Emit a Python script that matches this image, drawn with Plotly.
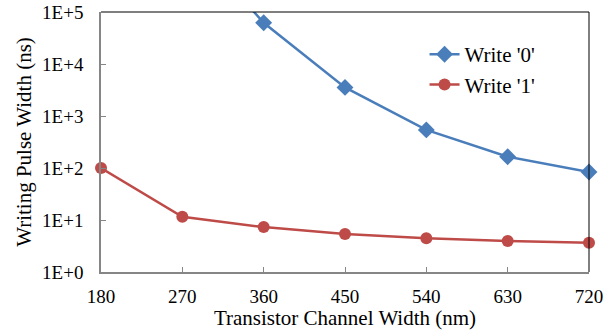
import plotly.graph_objects as go

x_vals = [180, 270, 360, 450, 540, 630, 720]
write0_x = [270, 360, 450, 540, 630, 720]
write0_y = [3.5e6, 6.2e4, 3550, 540, 165, 84]
write1 = [100, 11.5, 7.3, 5.4, 4.45, 3.95, 3.66]
y_tickvals = [1, 10, 100, 1000, 10000, 100000]
y_ticktext = ["1E+0", "1E+1", "1E+2", "1E+3", "1E+4", "1E+5"]

BLUE = "#4A7EBB"
RED = "#BE4B48"
FONT = "Liberation Serif"

fig = go.Figure()
fig.add_trace(go.Scatter(x=write0_x, y=write0_y, mode="lines+markers", name="Write '0'",
                         legendgroup="a",
                         line=dict(color=BLUE, width=2.5),
                         marker=dict(symbol="diamond", size=13, color=BLUE),
                         cliponaxis=False))
fig.add_trace(go.Scatter(x=x_vals, y=write1, mode="lines+markers", name="Write '1'",
                         legendgroup="b",
                         line=dict(color=RED, width=2.5),
                         marker=dict(symbol="circle", size=12, color=RED),
                         cliponaxis=False))

fig.update_layout(
    width=616, height=330,
    margin=dict(l=101, r=27, t=12, b=58, autoexpand=False),
    paper_bgcolor="white", plot_bgcolor="white",
    font=dict(family=FONT, size=19, color="black"),
    legend=dict(x=0.663, y=0.915, xanchor="left", yanchor="top",
                font=dict(size=21, family=FONT, color="black"), bgcolor="rgba(0,0,0,0)",
                itemwidth=30, tracegroupgap=0),
    xaxis=dict(range=[180, 720], tickvals=x_vals, ticks="inside", ticklen=5,
               tickcolor="#868686", showline=True, linecolor="#868686", linewidth=1.5,
               showgrid=False, zeroline=False, automargin=False, ticklabelstandoff=6,
               title=dict(text="Transistor Channel Width (nm)",
                          font=dict(size=21, family=FONT, color="black"), standoff=0),
               tickfont=dict(size=19, family=FONT, color="black")),
    yaxis=dict(type="log", range=[0, 5], tickvals=y_tickvals, ticktext=y_ticktext,
               ticks="inside", ticklen=5, tickcolor="#868686", showline=True,
               linecolor="#868686", linewidth=1.5, showgrid=False, zeroline=False,
               automargin=False, ticklabelstandoff=12,
               title=dict(text="Writing Pulse Width (ns)",
                          font=dict(size=21, family=FONT, color="black"), standoff=5),
               tickfont=dict(size=19, family=FONT, color="black")),
    shapes=[
        dict(type="line", xref="paper", yref="paper", x0=0, x1=1, y0=1, y1=1,
             line=dict(color="black", width=1)),
        dict(type="line", xref="paper", yref="paper", x0=1, x1=1, y0=0, y1=1,
             line=dict(color="black", width=1)),
    ],
)

fig.write_html("out.html", config={"displayModeBar": False},
               post_script="document.body.style.margin='0';document.body.style.overflow='hidden';")
